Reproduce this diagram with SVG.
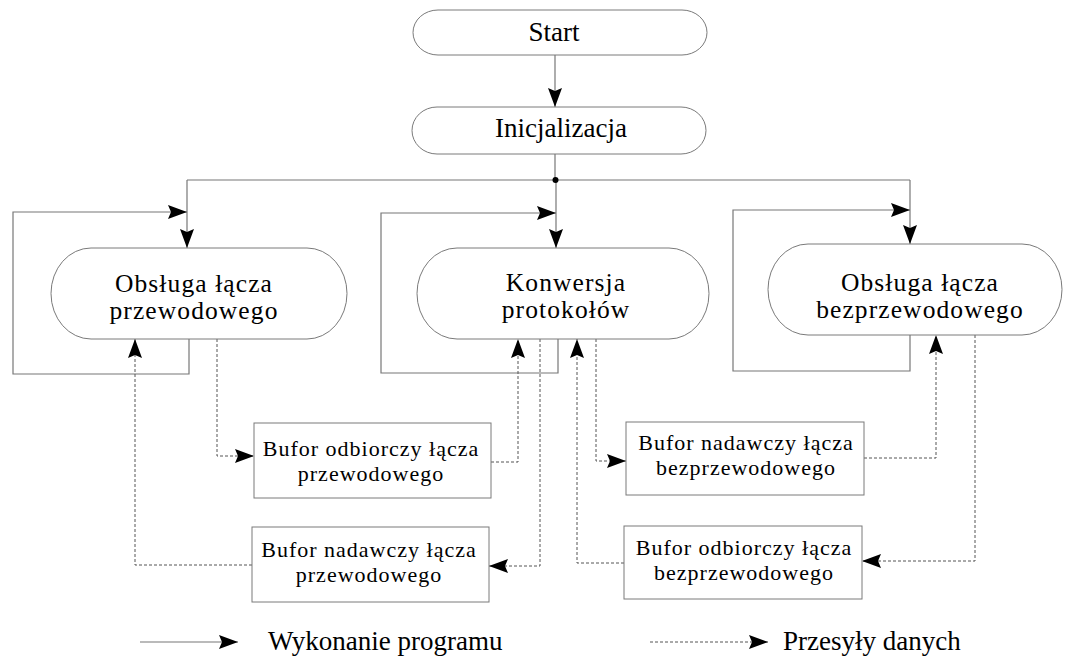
<svg xmlns="http://www.w3.org/2000/svg" width="1067" height="657" viewBox="0 0 1067 657">
<style>
  .node { fill: #ffffff; stroke: #7a7a7a; stroke-width: 1; }
  .t { font-family: "Liberation Serif", "Times New Roman", serif; fill: #000; text-anchor: middle; }
  .big { font-size: 27px; }
  .mid { font-size: 25.5px; letter-spacing: 1.1px; }
  .buf { font-size: 22px; letter-spacing: 1px; }
  .leg { font-family: "Liberation Serif", "Times New Roman", serif; font-size: 27px; fill: #000; }
  .flow { fill: none; stroke: #777777; stroke-width: 1.2; }
  .data { fill: none; stroke: #555555; stroke-width: 1; stroke-dasharray: 3 2; }
</style>
<defs>
  <marker id="ah" markerUnits="userSpaceOnUse" markerWidth="20" markerHeight="14" refX="19" refY="7" orient="auto">
    <path d="M0,0 L19,7 L0,14 L3,7 z" fill="#000"/>
  </marker>
</defs>
<rect width="1067" height="657" fill="#ffffff"/>

<g id="connectors">
  <!-- execution flow -->
  <path class="flow" d="M555,55 V107" marker-end="url(#ah)"/>
  <path class="flow" d="M555,154 V180"/>
  <path class="flow" d="M187,180 H910"/>
  <path class="flow" d="M187,180 V248" marker-end="url(#ah)"/>
  <path class="flow" d="M556,180 V248" marker-end="url(#ah)"/>
  <path class="flow" d="M910,180 V244" marker-end="url(#ah)"/>
  <circle cx="555.5" cy="180" r="3" fill="#000"/>
  <path class="flow" d="M189,339 V374 H13 V212 H187" marker-end="url(#ah)"/>
  <path class="flow" d="M558,339 V373 H381 V213 H556" marker-end="url(#ah)"/>
  <path class="flow" d="M910,335 V371 H733 V210 H910" marker-end="url(#ah)"/>
  <!-- data transfers -->
  <path class="data" d="M217,339 V456 H254" marker-end="url(#ah)"/>
  <path class="data" d="M491,462 H518 V339" marker-end="url(#ah)"/>
  <path class="data" d="M540,339 V566 H489" marker-end="url(#ah)"/>
  <path class="data" d="M252,565 H135 V339" marker-end="url(#ah)"/>
  <path class="data" d="M596,339 V461 H626" marker-end="url(#ah)"/>
  <path class="data" d="M864,458 H936 V335" marker-end="url(#ah)"/>
  <path class="data" d="M975,335 V561 H862" marker-end="url(#ah)"/>
  <path class="data" d="M624,563 H577 V339" marker-end="url(#ah)"/>
</g>

<g id="start">
  <rect class="node" x="413" y="10" width="294" height="45" rx="25" ry="22.5"/>
  <text class="t big" x="554" y="41">Start</text>
</g>
<g id="init">
  <rect class="node" x="412" y="107" width="294" height="47" rx="25" ry="23.5"/>
  <text class="t big" x="561" y="137">Inicjalizacja</text>
</g>
<g id="obsluga-przewodowego">
  <rect class="node" x="51" y="248" width="296" height="91" rx="40" ry="45.5"/>
  <text class="t mid" x="194" y="292">Obsługa łącza</text>
  <text class="t mid" x="194" y="319">przewodowego</text>
</g>
<g id="konwersja">
  <rect class="node" x="417" y="248" width="292" height="91" rx="40" ry="45.5"/>
  <text class="t mid" x="566" y="291">Konwersja</text>
  <text class="t mid" x="566" y="318">protokołów</text>
</g>
<g id="obsluga-bezprzewodowego">
  <rect class="node" x="768" y="244" width="294" height="91" rx="40" ry="45.5"/>
  <text class="t mid" x="920" y="291">Obsługa łącza</text>
  <text class="t mid" x="920" y="318">bezprzewodowego</text>
</g>
<g id="bufor-odb-przew">
  <rect class="node" x="254" y="423" width="237" height="75"/>
  <text class="t buf" x="371" y="456">Bufor odbiorczy łącza</text>
  <text class="t buf" x="371" y="481">przewodowego</text>
</g>
<g id="bufor-nad-przew">
  <rect class="node" x="252" y="527" width="237" height="75"/>
  <text class="t buf" x="369" y="557">Bufor nadawczy łącza</text>
  <text class="t buf" x="369" y="582">przewodowego</text>
</g>
<g id="bufor-nad-bezprzew">
  <rect class="node" x="626" y="422" width="238" height="73"/>
  <text class="t buf" x="746" y="450">Bufor nadawczy łącza</text>
  <text class="t buf" x="746" y="475">bezprzewodowego</text>
</g>
<g id="bufor-odb-bezprzew">
  <rect class="node" x="624" y="526" width="238" height="73"/>
  <text class="t buf" x="744" y="555">Bufor odbiorczy łącza</text>
  <text class="t buf" x="744" y="580">bezprzewodowego</text>
</g>

<g id="legend">
  <path class="flow" d="M140,642 H238" marker-end="url(#ah)"/>
  <text class="leg" x="268" y="650">Wykonanie programu</text>
  <path class="data" d="M650,642 H768" marker-end="url(#ah)"/>
  <text class="leg" x="783" y="650">Przesyły danych</text>
</g>
</svg>
